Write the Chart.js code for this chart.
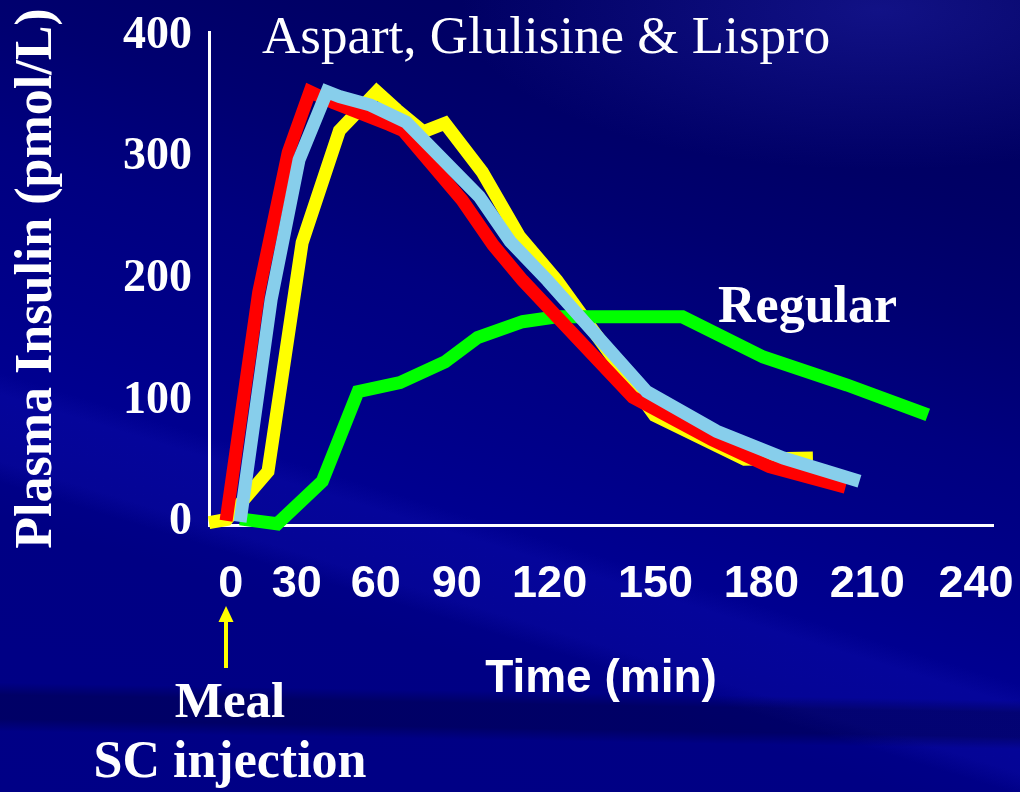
<!DOCTYPE html>
<html>
<head>
<meta charset="utf-8">
<script src="https://cdn.jsdelivr.net/npm/chart.js@4.4.1/dist/chart.umd.min.js"></script>
<style>
html,body{margin:0;padding:0;}
body{
  width:1020px;height:792px;overflow:hidden;position:relative;
  background:
    radial-gradient(ellipse 420px 160px at 880px 10px, rgba(50,50,210,0.35), rgba(0,0,0,0) 100%),
    linear-gradient(181deg, rgba(0,0,0,0) 0%, rgba(0,0,0,0) 86.5%, rgba(0,0,45,0.35) 88%, rgba(0,0,45,0.35) 91%, rgba(0,0,0,0) 92.5%),
    linear-gradient(197deg, rgba(0,0,0,0) 0%, rgba(0,0,0,0) 62%, rgba(20,20,190,0.25) 64%, rgba(20,20,190,0.25) 70%, rgba(0,0,0,0) 72%),
    linear-gradient(197deg, #00005a 0%, #000066 20%, #000070 30%, #000080 42%, #00008a 55%, #000090 62%, #000084 75%, #000086 100%);
}
#wrap{position:absolute;left:0;top:0;width:1020px;height:792px;}
.t{position:absolute;color:#fff;white-space:nowrap;line-height:1;font-family:"Liberation Serif","Times New Roman",serif;}
#title{left:262px;top:9px;font-size:53px;font-weight:normal;}
#regular{left:718px;top:279px;font-size:52px;font-weight:bold;}
#meal{left:130px;width:200px;text-align:center;top:675px;font-size:51px;font-weight:bold;}
#inj{left:80px;width:300px;text-align:center;top:734px;font-size:52px;font-weight:bold;}
#arrow{position:absolute;left:0;top:0;}
</style>
</head>
<body>
<div id="wrap"><canvas id="c" width="1020" height="792"></canvas></div>
<div class="t" id="title">Aspart, Glulisine &amp; Lispro</div>
<div class="t" id="regular">Regular</div>
<div class="t" id="meal">Meal</div>
<div class="t" id="inj">SC injection</div>
<svg id="arrow" width="1020" height="792">
  <rect x="224" y="619" width="4" height="49" fill="#ffff00"/>
  <polygon points="226,606 218.5,622 233.5,622" fill="#ffff00"/>
</svg>
<script>
// ---- data (time in min, insulin in pmol/L) ----
const xTickLabels = ['0','30','60','90','120','150','180','210','240'];
const xTickValues = [0, 21.3, 46.7, 72.8, 102.7, 136.8, 170.9, 205, 240];
const yTickValues = [0, 100, 200, 300, 400];

const redTime     = [-1.5, 9, 18.5, 25.5, 33, 51, 55.5, 74.5, 84.5, 94, 129.5, 155, 173.5, 198];
const redInsulin  = [1.5, 189, 304, 354, 345, 327, 322, 265, 228, 199, 103, 68, 46, 29];

const blueTime    = [3, 13, 22, 31, 35, 45, 56.5, 80, 90, 102, 134, 156.5, 178, 202.5];
const blueInsulin = [0.5, 183, 298, 354, 350, 343, 329, 268, 231, 199, 107.5, 75, 53, 34];

const yellowTime    = [-7, -1.3, 12, 23, 35, 47, 53.5, 62, 69, 81, 93, 105, 136.5, 165.5, 187.5];
const yellowInsulin = [0, 2.5, 42, 230, 322, 354, 339, 321, 328, 288, 235, 199, 88, 52, 53];

const regularTime    = [3, 15, 29.5, 41, 54.5, 69, 79.5, 94, 105, 145.5, 171.5, 198.5, 224.5];
const regularInsulin = [3, -1, 34, 107.5, 115, 132, 152, 165, 169, 169, 136, 113, 88.5];

const pts = (xs, ys) => xs.map((x, i) => ({x: x, y: ys[i]}));

const lineStyle = (color) => ({
  borderColor: color, backgroundColor: color, borderWidth: 13,
  pointRadius: 0, tension: 0, fill: false, clip: false,
  borderCapStyle: 'butt', borderJoinStyle: 'miter'
});

new Chart(document.getElementById('c'), {
  type: 'line',
  data: {
    datasets: [
      Object.assign({label: 'Rapid analog (light blue)', data: pts(blueTime, blueInsulin)}, lineStyle('#87CEEB')),
      Object.assign({label: 'Rapid analog (red)', data: pts(redTime, redInsulin)}, lineStyle('#FF0000')),
      Object.assign({label: 'Regular', data: pts(regularTime, regularInsulin)}, lineStyle('#00FF00')),
      Object.assign({label: 'Rapid analog (yellow)', data: pts(yellowTime, yellowInsulin)}, lineStyle('#FFFF00'))
    ]
  },
  options: {
    responsive: false,
    animation: false,
    layout: {padding: {top: 32, right: 27, left: 0, bottom: 0}},
    plugins: {legend: {display: false}, tooltip: {enabled: false}, title: {display: false}},
    scales: {
      x: {
        type: 'linear', min: -7, max: 245.5,
        afterFit: (s) => { s.height = 267; s.paddingLeft = 0; s.paddingRight = 0; },
        afterBuildTicks: (s) => { s.ticks = xTickValues.map(v => ({value: v})); },
        grid: {display: false, drawTicks: false},
        border: {display: true, color: '#ffffff', width: 3},
        ticks: {
          autoSkip: false, maxRotation: 0, minRotation: 0, padding: 33,
          color: '#ffffff',
          font: {family: 'Liberation Sans', weight: 'bold', size: 45},
          callback: (v, i) => xTickLabels[i]
        },
        title: {
          display: true, text: 'Time (min)', color: '#ffffff',
          font: {family: 'Liberation Sans', weight: 'bold', size: 46},
          padding: {top: 0, bottom: 85}
        }
      },
      y: {
        type: 'linear', min: -2, max: 403,
        afterFit: (s) => { s.width = 209; s.paddingTop = 0; s.paddingBottom = 0; },
        afterBuildTicks: (s) => { s.ticks = yTickValues.map(v => ({value: v})); },
        grid: {display: false, drawTicks: false},
        border: {display: true, color: '#ffffff', width: 3},
        ticks: {
          padding: 17, color: '#ffffff',
          font: {family: 'Liberation Serif', weight: 'bold', size: 46}
        },
        title: {
          display: true, text: 'Plasma Insulin (pmol/L)', color: '#ffffff',
          font: {family: 'Liberation Serif', weight: 'bold', size: 52},
          padding: {top: 6, bottom: 0}
        }
      }
    }
  }
});
</script>
</body>
</html>
